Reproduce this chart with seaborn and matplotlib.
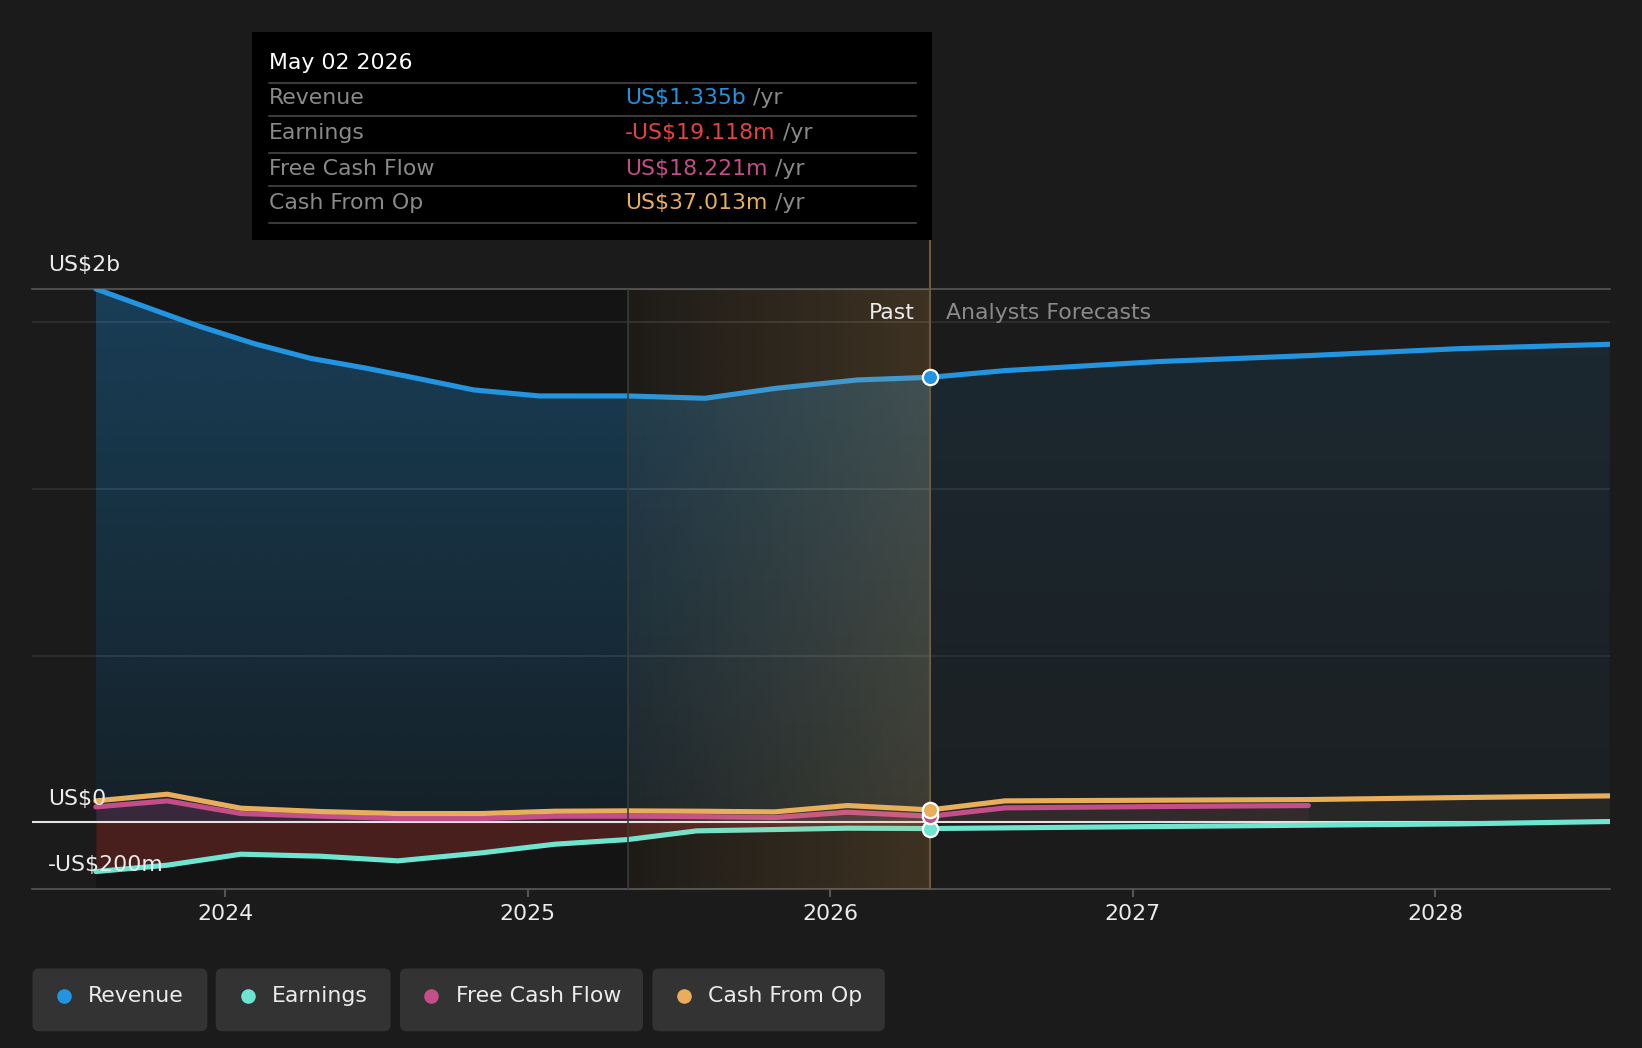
import numpy as np
import pandas as pd
import matplotlib
matplotlib.use("Agg")
import matplotlib.pyplot as plt
from matplotlib.colors import to_rgb
from matplotlib.patches import Rectangle, FancyBboxPatch
from matplotlib.lines import Line2D
import seaborn as sns

# revenue history (trailing twelve months)
rev_dates = ["2023-07-29", "2023-09-26", "2023-12-01", "2024-02-05", "2024-04-13",
             "2024-06-18", "2024-08-10", "2024-10-28", "2025-01-15", "2025-05-02",
             "2025-08-03", "2025-10-28", "2026-02-03", "2026-05-02"]
revenue_past = [1.600, 1.547, 1.488, 1.436, 1.392, 1.363, 1.337, 1.297, 1.279, 1.279,
                1.272, 1.302, 1.327, 1.335]

# earnings / cash flow history
cash_dates = ["2023-07-29", "2023-10-23", "2024-01-20", "2024-04-25", "2024-07-28",
              "2024-11-06", "2025-02-03", "2025-05-02", "2025-07-24", "2025-10-26",
              "2026-01-22", "2026-05-02"]
earnings_past = [-0.148, -0.129, -0.096, -0.102, -0.116, -0.092, -0.066, -0.052, -0.026,
                 -0.022, -0.018, -0.019]
fcf_past = [0.046, 0.064, 0.026, 0.018, 0.011, 0.011, 0.018, 0.018, 0.017, 0.014, 0.030, 0.018]
cfo_past = [0.064, 0.084, 0.042, 0.032, 0.026, 0.026, 0.033, 0.034, 0.033, 0.031, 0.050, 0.037]

# analyst forecasts
fc_dates = ["2026-05-02", "2026-07-31", "2027-01-31", "2027-08-01", "2028-01-31", "2028-07-30"]
fcf_fc_dates = fc_dates[:4]
revenue_fc = [1.335, 1.355, 1.382, 1.400, 1.421, 1.434]
earnings_fc = [-0.019, -0.017, -0.013, -0.009, -0.005, 0.002]
fcf_fc = [0.018, 0.043, 0.047, 0.050]
cfo_fc = [0.037, 0.064, 0.066, 0.068, 0.074, 0.079]

now_date = "2026-05-02"
highlight_start = "2025-05-02"

series_names = ["Revenue", "Earnings", "Free Cash Flow", "Cash From Op"]
tooltip_values = ["US$1.335b", "-US$19.118m", "US$18.221m", "US$37.013m"]
year_ticks = [2024, 2025, 2026, 2027, 2028]

BG = "#1b1b1b"
BLUE = "#2394df"
TEAL = "#6ee5d0"
PINK = "#c44e89"
ORANGE = "#e8ae5c"
RED = "#e8423f"
GREY = "#8a8a8a"
WHITE = "#ececec"
FS = 15.8


def to_year(dates):
    d = pd.to_datetime(pd.Series(dates))
    days = np.where(d.dt.is_leap_year, 366, 365)
    return (d.dt.year + (d.dt.dayofyear - 1) / days).to_numpy(dtype=float)


xr = to_year(rev_dates)
xp = to_year(cash_dates)
xf = to_year(fc_dates)
xff = to_year(fcf_fc_dates)
x_now = to_year([now_date])[0]
x_hs = to_year([highlight_start])[0]
x_left = 2023.363
x_right = xf[-1]
y_lo, y_hi = -0.2, 1.6

sns.set_theme(style="dark")
plt.rcParams["font.family"] = ["DejaVu Sans"]

# layout grid of the reference (display pixels)
W, H = 1568, 1001


def fx(x):
    return x / W


def fy(y):
    return 1 - y / H


fig = plt.figure(figsize=(16.42, 10.48), dpi=100)
fig.patch.set_facecolor(BG)
ax = fig.add_axes([fx(31), fy(849), fx(1537) - fx(31), fy(276) - fy(849)])
ax.set_facecolor(BG)
for s in ax.spines.values():
    s.set_visible(False)


def gradient_fill(x, y, color, a_top, a_bot, lo, hi, z):
    coll = ax.fill_between(x, y, 0, facecolor="none", edgecolor="none")
    grad = np.zeros((120, 1, 4))
    grad[..., :3] = to_rgb(color)
    grad[..., 3] = np.linspace(a_top, a_bot, 120)[:, None]
    im = ax.imshow(grad, extent=[x.min(), x.max(), lo, hi], aspect="auto",
                   origin="upper", zorder=z, interpolation="bilinear")
    im.set_clip_path(coll.get_paths()[0], transform=ax.transData)


# darker past background
ax.axvspan(xr[0], x_now, color="black", alpha=0.25, lw=0, zorder=0.2)

# grid
for g in [0.5, 1.0, 1.5]:
    ax.axhline(g, color="#303030", lw=1.2, zorder=0.5)
ax.axhline(y_hi, color="#4e4e4e", lw=1.5, zorder=0.5, clip_on=False)
ax.axhline(y_lo, color="#4e4e4e", lw=1.5, zorder=0.5, clip_on=False)

# area fills
gradient_fill(xr, revenue_past, BLUE, 0.33, 0.10, 0, y_hi, 1)
gradient_fill(xf, revenue_fc, BLUE, 0.12, 0.04, 0, y_hi, 1)
ax.fill_between(xp, earnings_past, 0, color=RED, alpha=0.25, lw=0, zorder=1.2)
ax.fill_between(xp, fcf_past, 0, color=PINK, alpha=0.2, lw=0, zorder=1.2)
ax.fill_between(xff, fcf_fc, 0, color=PINK, alpha=0.08, lw=0, zorder=1.2)
ax.fill_between(xf, cfo_fc, 0, color=ORANGE, alpha=0.06, lw=0, zorder=1.1)

ax.axhline(0, color="#e6e0e0", lw=1.5, zorder=2)

# lines
kw = dict(ax=ax, linewidth=3.7, solid_capstyle="round", solid_joinstyle="round",
          legend=False, zorder=3)
sns.lineplot(x=np.r_[xp, xf[1:]], y=earnings_past + earnings_fc[1:], color=TEAL, **kw)
sns.lineplot(x=np.r_[xp, xff[1:]], y=fcf_past + fcf_fc[1:], color=PINK, **kw)
sns.lineplot(x=np.r_[xp, xf[1:]], y=cfo_past + cfo_fc[1:], color=ORANGE, **kw)
sns.lineplot(x=np.r_[xr, xf[1:]], y=revenue_past + revenue_fc[1:], color=BLUE, **kw)

# highlighted last year of the past
hl = np.zeros((1, 200, 4))
hl[..., :3] = to_rgb(ORANGE)
hl[..., 3] = np.linspace(0.05, 0.2, 200)[None, :]
ax.imshow(hl, extent=[x_hs, x_now, y_lo, y_hi], aspect="auto", zorder=4,
          interpolation="bilinear")
ax.plot([x_hs, x_hs], [y_lo, y_hi], color="#3c3a36", lw=1.2, zorder=4.1)
ax.plot([x_now, x_now], [y_lo, 1.748], color="#6b5a3c", lw=1.5, zorder=4.1,
        clip_on=False)

# current-value markers
for val, col, z in [(earnings_past[-1], TEAL, 6), (fcf_past[-1], PINK, 6.1),
                    (cfo_past[-1], ORANGE, 6.2), (revenue_past[-1], BLUE, 6.3)]:
    ax.plot([x_now], [val], marker="o", markersize=11, markerfacecolor=col,
            markeredgecolor="white", markeredgewidth=1.6, zorder=z)

ax.set_xlim(x_left, x_right)
ax.set_ylim(y_lo, y_hi)
ax.set_yticks([])
ax.set_xticks(year_ticks)
ax.set_xticklabels([str(y) for y in year_ticks])
ax.tick_params(axis="x", colors="#555555", labelcolor=WHITE, labelsize=FS,
               length=6, width=1.5, pad=5, bottom=True, direction="out")
ax.grid(False)

# y labels
ytr = ax.get_yaxis_transform()
for val, lab in [(y_hi, "US$2b"), (0, "US$0"), (y_lo, "-US$200m")]:
    ax.annotate(lab, xy=(0.01, val), xycoords=ytr, xytext=(0, 17),
                textcoords="offset points", color=WHITE, fontsize=FS,
                va="center", ha="left", zorder=7)

ax.annotate("Past", xy=(x_now, 1.528), xytext=(-11, 0), textcoords="offset points",
            color=WHITE, fontsize=FS, ha="right", va="center", zorder=7)
ax.annotate("Analysts Forecasts", xy=(x_now, 1.528), xytext=(11.5, 0),
            textcoords="offset points", color=GREY, fontsize=FS, ha="left",
            va="center", zorder=7)

# tooltip
fig.add_artist(Rectangle((fx(241), fy(229)), fx(890) - fx(241), fy(31) - fy(229),
                         transform=fig.transFigure, facecolor="black",
                         edgecolor="none", zorder=10))
fig.text(fx(257), fy(60), "May 02 2026", color="white", fontsize=FS,
         va="center", ha="left", zorder=11)
for yy in [79, 111, 146, 178, 213]:
    fig.add_artist(Line2D([fx(257), fx(875)], [fy(yy), fy(yy)], transform=fig.transFigure,
                          color="#3a3a3a", lw=1.5, zorder=11))
value_colors = [BLUE, RED, PINK, ORANGE]
for name, val, col, yy in zip(series_names, tooltip_values, value_colors, [94, 127, 161, 194]):
    fig.text(fx(257), fy(yy), name, color=GREY, fontsize=FS, va="center",
             ha="left", zorder=11)
    t = fig.text(fx(597), fy(yy), val, color=col, fontsize=FS, va="center",
                 ha="left", zorder=11)
    fig.add_artist(plt.Annotation(" /yr", xy=(1, 0.5), xycoords=t, color=GREY,
                                  fontsize=FS, va="center", ha="left", zorder=11))

# legend chips
chips = [(31, 198, 61), (206, 373, 237), (382, 614, 412), (623, 845, 653)]
for (x0, x1, xd), name, col in zip(chips, series_names, [BLUE, TEAL, PINK, ORANGE]):
    fig.add_artist(FancyBboxPatch((fx(x0), fy(985)), fx(x1) - fx(x0), fy(925) - fy(985),
                                  boxstyle="round,pad=0,rounding_size=0.004",
                                  mutation_aspect=W / H,
                                  transform=fig.transFigure, facecolor="#333333",
                                  edgecolor="none", zorder=10))
    fig.add_artist(Line2D([fx(xd)], [fy(951)], transform=fig.transFigure, marker="o",
                          markersize=10.5, markerfacecolor=col, markeredgecolor="none",
                          linestyle="none", zorder=11))
    fig.text(fx(xd + 23), fy(951), name, color=WHITE, fontsize=FS, va="center",
             ha="left", zorder=11)

fig.savefig("out.png", dpi=100, facecolor=BG)
